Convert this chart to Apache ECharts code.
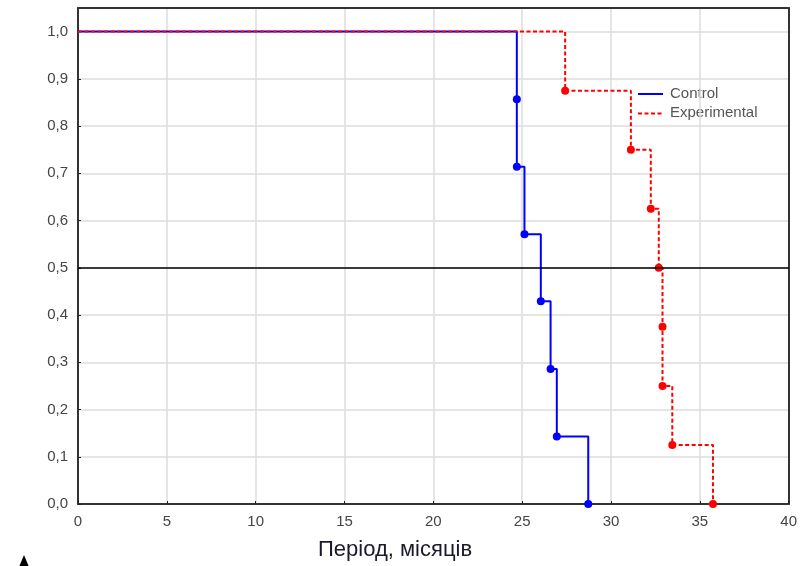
<!DOCTYPE html>
<html><head><meta charset="utf-8">
<script src="https://cdn.jsdelivr.net/npm/echarts@6/dist/echarts.min.js"></script>
<style>html,body{margin:0;padding:0;background:#fff}#c{width:800px;height:566px}</style>
</head><body><div id="c"></div>
<script>
// ---- data ----
const startPoint = [0, 1.0];
const controlTimes = [24.7, 24.7, 25.13, 26.05, 26.6, 26.95, 28.72];
const controlSurv  = [0.857, 0.714, 0.571, 0.429, 0.286, 0.143, 0.0];
const expTimes = [27.42, 31.12, 32.24, 32.69, 32.9, 32.9, 33.45, 35.74];
const expSurv  = [0.875, 0.75, 0.625, 0.5, 0.375, 0.25, 0.125, 0.0];
const seriesNames = ['Control', 'Experimental'];
const xTickLabels = ['0','5','10','15','20','25','30','35','40'];
const yTickLabels = ['0,0','0,1','0,2','0,3','0,4','0,5','0,6','0,7','0,8','0,9','1,0'];
const xAxisTitle = 'Період, місяців';
const medianLevel = 0.5;

function buildData(times, surv) {
  const d = [{ value: startPoint, symbol: 'none' }];
  times.forEach((t, i) => d.push([t, surv[i]]));
  return d;
}

const chart = echarts.init(document.getElementById('c'), null, { renderer: 'canvas' });
const labelFont = { fontFamily: 'Liberation Sans, Arial, sans-serif', fontSize: 15, color: '#454545' };
const frameLine = { show: true, onZero: false, lineStyle: { color: '#333', width: 2 } };

chart.setOption({
  animation: false,
  backgroundColor: '#fff',
  grid: { left: 78, right: 9, top: 8, bottom: 62 },
  xAxis: [{
    type: 'value', min: 0, max: 40, interval: 5, position: 'bottom',
    axisLine: frameLine,
    axisTick: { show: true, inside: true, length: 3, lineStyle: { color: '#222' } },
    axisLabel: Object.assign({ margin: 10, formatter: v => xTickLabels[Math.round(v / 5)] }, labelFont),
    splitLine: { show: true, lineStyle: { color: '#dcdcdc', width: 1.5 } }
  }, {
    type: 'value', min: 0, max: 40, interval: 5, position: 'top',
    axisLine: frameLine, axisTick: { show: false }, axisLabel: { show: false }, splitLine: { show: false }
  }],
  yAxis: [{
    type: 'value', min: 0, max: 1.05, interval: 0.1, position: 'left',
    axisLine: frameLine,
    axisTick: { show: true, inside: true, length: 3, lineStyle: { color: '#222' } },
    axisLabel: Object.assign({ margin: 10, showMaxLabel: false,
      formatter: v => { const i = Math.round(v * 10); return (Math.abs(v * 10 - i) < 1e-6) ? yTickLabels[i] : ''; } }, labelFont),
    splitLine: { show: true, lineStyle: { color: '#dcdcdc', width: 1.5 } }
  }, {
    type: 'value', min: 0, max: 1.05, interval: 0.1, position: 'right',
    axisLine: frameLine, axisTick: { show: false }, axisLabel: { show: false }, splitLine: { show: false }
  }],
  series: [
    {
      name: seriesNames[0], type: 'line', step: 'end', xAxisIndex: 0, yAxisIndex: 0,
      data: buildData(controlTimes, controlSurv),
      symbol: 'circle', symbolSize: 8,
      itemStyle: { color: '#0000ff' },
      lineStyle: { color: '#0000ff', width: 2 },
      markLine: {
        silent: true, symbol: ['none', 'none'], label: { show: false },
        lineStyle: { color: '#000', type: 'solid', width: 1.5 },
        data: [{ yAxis: medianLevel }]
      },
      z: 3
    },
    {
      name: seriesNames[1], type: 'line', step: 'end', xAxisIndex: 0, yAxisIndex: 0,
      data: buildData(expTimes, expSurv),
      symbol: 'circle', symbolSize: 8,
      itemStyle: { color: '#ff0000' },
      lineStyle: { color: '#ff0000', width: 2, type: [4, 2.5] },
      z: 4
    }
  ],
  graphic: [
    { type: 'line', shape: { x1: 638, y1: 94, x2: 663, y2: 94 }, style: { stroke: '#0000ff', lineWidth: 2 } },
    { type: 'line', shape: { x1: 638, y1: 113.5, x2: 663, y2: 113.5 }, style: { stroke: '#ff0000', lineWidth: 2, lineDash: [4, 2.5] } },
    { type: 'text', left: 670, top: 86, style: { text: seriesNames[0], font: '15px "Liberation Sans", Arial, sans-serif', fill: '#555' } },
    { type: 'text', left: 670, top: 105, style: { text: seriesNames[1], font: '15px "Liberation Sans", Arial, sans-serif', fill: '#555' } },
    { type: 'text', left: 318, top: 539, style: { text: xAxisTitle, font: '22px "Liberation Sans", Arial, sans-serif', fill: '#1a1a2a' } },
    { type: 'polygon', shape: { points: [[19, 567], [24, 555], [29, 567]] }, style: { fill: '#000' } }
  ]
});
</script>
</body></html>
